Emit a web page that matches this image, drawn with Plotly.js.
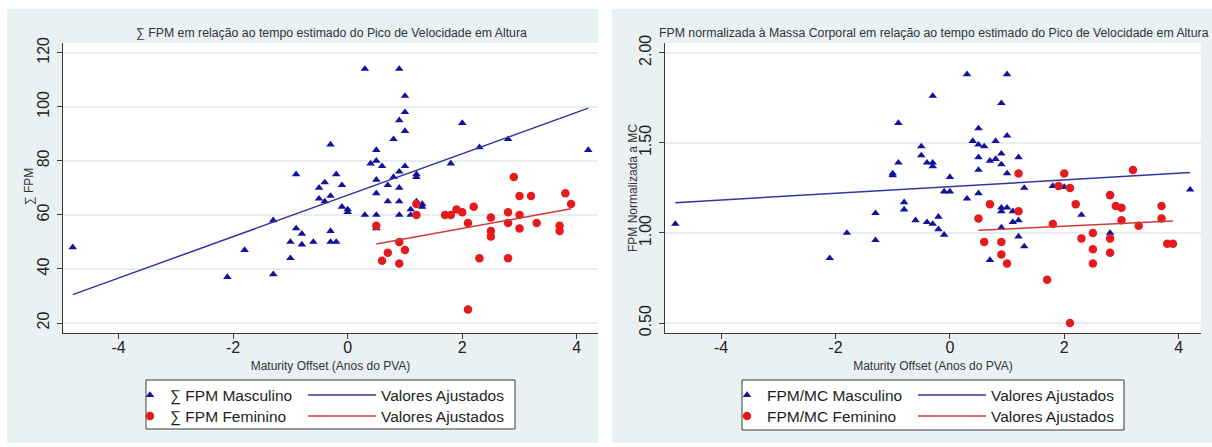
<!DOCTYPE html>
<html><head><meta charset="utf-8">
<script src="https://cdn.plot.ly/plotly-3.0.1.min.js"></script>
<style>html,body{margin:0;padding:0;background:#fff;}#chart{width:1212px;height:447px;}</style>
</head><body><div id="chart"></div>
<script>
// ---------- Left panel: ∑ FPM ----------
const mascX = [-4.8,-2.1,-1.8,-1.3,-1.3,-1.0,-1.0,-0.9,-0.9,-0.8,-0.8,-0.6,-0.5,-0.5,-0.4,-0.4,-0.3,-0.3,-0.3,-0.3,-0.2,-0.2,-0.1,-0.1,0,0,0.3,0.3,0.4,0.5,0.5,0.5,0.5,0.5,0.5,0.6,0.7,0.7,0.8,0.8,0.9,0.9,0.9,0.9,0.9,0.9,1.0,1.0,1.0,1.0,1.1,1.1,1.2,1.2,1.2,1.3,1.3,1.8,2.0,2.3,2.8,4.2];
const mascFPM = [48,37,47,58,38,50,44,75,55,53,49,50,70,66,72,65,86,67,54,50,75,50,71,63,62,61,114,60,79,84,80,73,68,60,55,78,71,65,88,74,114,95,76,70,65,60,104,98,91,78,62,60,75,74,65,64,63,79,94,85,88,84];
const femX = [0.5,0.6,0.7,0.9,0.9,1.0,1.2,1.2,1.7,1.8,1.9,2.0,2.1,2.1,2.2,2.3,2.5,2.5,2.5,2.8,2.8,2.8,2.9,3.0,3.0,3.0,3.2,3.3,3.7,3.7,3.8,3.9];
const femFPM = [56,43,46,50,42,47,64,60,60,60,62,61,57,25,63,44,59,54,52,61,57,44,74,67,60,55,67,57,56,54,68,64];
const fitMascX = [-4.8, 4.2];
const fitMascFPM = [30.5, 99.5];
const fitFemX = [0.5, 3.9];
const fitFemFPM = [49.2, 62.3];

// ---------- Right panel: FPM / MC ----------
const mascX2 = [-4.8,-2.1,-1.8,-1.3,-1.3,-1.0,-1.0,-0.9,-0.9,-0.8,-0.8,-0.6,-0.5,-0.5,-0.4,-0.4,-0.3,-0.3,-0.3,-0.3,-0.2,-0.2,-0.1,-0.1,0,0,0.3,0.3,0.4,0.5,0.5,0.5,0.5,0.5,0.6,0.7,0.7,0.8,0.8,0.9,0.9,0.9,0.9,0.9,0.9,1.0,1.0,1.0,1.0,1.1,1.1,1.2,1.2,1.2,1.3,1.3,1.8,2.0,2.3,2.8,4.2];
const mascMC = [1.05,0.86,1.00,1.11,0.96,1.33,1.32,1.61,1.39,1.17,1.13,1.07,1.48,1.43,1.39,1.06,1.76,1.39,1.37,1.05,1.09,1.02,1.23,0.99,1.31,1.23,1.88,1.19,1.51,1.58,1.49,1.42,1.35,1.22,1.48,1.40,0.85,1.51,1.41,1.72,1.44,1.38,1.14,1.12,1.03,1.88,1.54,1.33,1.14,1.12,1.06,1.42,1.07,0.98,1.25,0.925,1.26,1.255,1.10,1.00,1.24];
const femX2 = [0.5,0.6,0.7,0.9,0.9,1.0,1.2,1.2,1.7,1.8,1.9,2.0,2.1,2.1,2.2,2.3,2.5,2.5,2.5,2.8,2.8,2.8,2.9,3.0,3.0,3.2,3.3,3.7,3.7,3.8,3.9];
const femMC = [1.08,0.95,1.16,0.95,0.88,0.83,1.33,1.12,0.74,1.05,1.26,1.33,1.25,0.50,1.16,0.97,1.00,0.91,0.83,1.21,0.97,0.89,1.15,1.14,1.07,1.35,1.04,1.15,1.08,0.94,0.94];
const fitMascX2 = [-4.8, 4.2];
const fitMascMC = [1.168, 1.335];
const fitFemX2 = [0.5, 3.9];
const fitFemMC = [1.015, 1.066];

// ---------- Ticks ----------
const xTicks = [-4, -2, 0, 2, 4];
const xTickText = ['-4', '-2', '0', '2', '4'];
const yTicksFPM = [20, 40, 60, 80, 100, 120];
const yTicksMC = [0.5, 1.0, 1.5, 2.0];
const yTickTextMC = ['0.50', '1.00', '1.50', '2.00'];

// ---------- Style ----------
const W = 1212, H = 447;
const fx = v => v / W, fy = v => 1 - v / H;
const FONT = 'Liberation Sans, Arial, sans-serif';
const BLUE = '#12129c', RED = '#e41a1c';
const BLUE_LINE = '#35359c', RED_LINE = '#d23a3a';
const PANEL = '#e9f1f3', GRID = '#e6eef2', AX = '#3a3a3a';

const traces = [
  {x: mascX, y: mascFPM, type: 'scatter', mode: 'markers', name: '∑ FPM Masculino',
   marker: {symbol: 'triangle-up', size: 7.5, color: BLUE}, xaxis: 'x', yaxis: 'y', legend: 'legend'},
  {x: fitMascX, y: fitMascFPM, type: 'scatter', mode: 'lines', name: 'Valores Ajustados',
   line: {color: BLUE_LINE, width: 1.5}, xaxis: 'x', yaxis: 'y', legend: 'legend2'},
  {x: femX, y: femFPM, type: 'scatter', mode: 'markers', name: '∑ FPM Feminino',
   marker: {symbol: 'circle', size: 8.5, color: RED}, xaxis: 'x', yaxis: 'y', legend: 'legend3'},
  {x: fitFemX, y: fitFemFPM, type: 'scatter', mode: 'lines', name: 'Valores Ajustados',
   line: {color: RED_LINE, width: 1.5}, xaxis: 'x', yaxis: 'y', legend: 'legend4'},

  {x: mascX2, y: mascMC, type: 'scatter', mode: 'markers', name: 'FPM/MC Masculino',
   marker: {symbol: 'triangle-up', size: 7.5, color: BLUE}, xaxis: 'x2', yaxis: 'y2', legend: 'legend5'},
  {x: fitMascX2, y: fitMascMC, type: 'scatter', mode: 'lines', name: 'Valores Ajustados',
   line: {color: BLUE_LINE, width: 1.5}, xaxis: 'x2', yaxis: 'y2', legend: 'legend6'},
  {x: femX2, y: femMC, type: 'scatter', mode: 'markers', name: 'FPM/MC Feminino',
   marker: {symbol: 'circle', size: 8.5, color: RED}, xaxis: 'x2', yaxis: 'y2', legend: 'legend7'},
  {x: fitFemX2, y: fitFemMC, type: 'scatter', mode: 'lines', name: 'Valores Ajustados',
   line: {color: RED_LINE, width: 1.5}, xaxis: 'x2', yaxis: 'y2', legend: 'legend8'}
];

const xCommon = {
  tickvals: xTicks, ticktext: xTickText, ticks: 'outside', ticklen: 5, tickcolor: AX, tickwidth: 1,
  showline: true, linecolor: AX, linewidth: 1, showgrid: false, zeroline: false, ticklabelstandoff: -5,
  tickfont: {size: 16, color: '#222', family: FONT}, fixedrange: true
};
const yCommon = {
  ticks: 'outside', ticklen: 5, tickcolor: AX, tickwidth: 1, tickangle: -90, ticklabelstandoff: 2,
  showline: true, linecolor: AX, linewidth: 1, showgrid: true, gridcolor: GRID, gridwidth: 2,
  zeroline: false, tickfont: {size: 16, color: '#222', family: FONT}, fixedrange: true
};
const legCommon = {orientation: 'v', bgcolor: 'rgba(0,0,0,0)', borderwidth: 0,
  font: {size: 15.5, color: '#1e1e1e', family: FONT}, xanchor: 'left', yanchor: 'top'};
const XT = {size: 12, color: '#333', family: FONT};
const ROW1 = 378.5, ROW2 = 399.5;

const layout = {
  width: W, height: H, margin: {l: 0, r: 0, t: 0, b: 0},
  paper_bgcolor: '#ffffff', plot_bgcolor: 'rgba(0,0,0,0)',
  font: {family: FONT, color: '#222'},
  showlegend: true,
  xaxis: Object.assign({}, xCommon, {domain: [fx(63), fx(598)], range: [-4.97, 4.37], anchor: 'y',
    title: {text: 'Maturity Offset (Anos do PVA)', font: XT, standoff: 6}}),
  yaxis: Object.assign({}, yCommon, {domain: [fy(333), fy(43)], range: [16.3, 123.6], anchor: 'x',
    tickvals: yTicksFPM}),
  xaxis2: Object.assign({}, xCommon, {domain: [fx(665), fx(1201)], range: [-4.98, 4.39], anchor: 'y2',
    title: {text: 'Maturity Offset (Anos do PVA)', font: XT, standoff: 6}}),
  yaxis2: Object.assign({}, yCommon, {domain: [fy(333), fy(43)], range: [0.445, 2.054], anchor: 'x2',
    tickvals: yTicksMC, ticktext: yTickTextMC}),
  legend:  Object.assign({}, legCommon, {x: fx(130), y: fy(ROW1), itemwidth: 30}),
  legend2: Object.assign({}, legCommon, {x: fx(303), y: fy(ROW1), itemwidth: 68}),
  legend3: Object.assign({}, legCommon, {x: fx(130), y: fy(ROW2), itemwidth: 30}),
  legend4: Object.assign({}, legCommon, {x: fx(303), y: fy(ROW2), itemwidth: 68}),
  legend5: Object.assign({}, legCommon, {x: fx(727), y: fy(ROW1), itemwidth: 30}),
  legend6: Object.assign({}, legCommon, {x: fx(913), y: fy(ROW1), itemwidth: 68}),
  legend7: Object.assign({}, legCommon, {x: fx(727), y: fy(ROW2), itemwidth: 30}),
  legend8: Object.assign({}, legCommon, {x: fx(913), y: fy(ROW2), itemwidth: 68}),
  annotations: [
    {text: '∑ FPM em relação ao tempo estimado do Pico de Velocidade em Altura', xref: 'paper', yref: 'paper',
     x: fx(331), y: fy(33), xanchor: 'center', yanchor: 'middle', showarrow: false,
     font: {size: 12.3, color: '#333', family: FONT}},
    {text: 'FPM normalizada à Massa Corporal em relação ao tempo estimado do Pico de Velocidade em Altura', xref: 'paper', yref: 'paper',
     x: fx(934), y: fy(33), xanchor: 'center', yanchor: 'middle', showarrow: false,
     font: {size: 12.3, color: '#333', family: FONT}},
    {text: '∑ FPM', xref: 'paper', yref: 'paper', x: fx(29), y: fy(187), textangle: -90,
     xanchor: 'center', yanchor: 'middle', showarrow: false, font: XT},
    {text: 'FPM Normalizada a MC', xref: 'paper', yref: 'paper', x: fx(633), y: fy(188), textangle: -90,
     xanchor: 'center', yanchor: 'middle', showarrow: false, font: XT}
  ],
  shapes: [
    {type: 'rect', xref: 'paper', yref: 'paper', x0: fx(7), x1: fx(598), y0: fy(443), y1: fy(9),
     fillcolor: PANEL, line: {width: 0}, layer: 'below'},
    {type: 'rect', xref: 'paper', yref: 'paper', x0: fx(612), x1: 1, y0: fy(443), y1: fy(9),
     fillcolor: PANEL, line: {width: 0}, layer: 'below'},
    {type: 'rect', xref: 'paper', yref: 'paper', x0: fx(63), x1: fx(598), y0: fy(333), y1: fy(43),
     fillcolor: '#ffffff', line: {width: 0}, layer: 'below'},
    {type: 'rect', xref: 'paper', yref: 'paper', x0: fx(665), x1: fx(1201), y0: fy(333), y1: fy(43),
     fillcolor: '#ffffff', line: {width: 0}, layer: 'below'},
    {type: 'rect', xref: 'paper', yref: 'paper', x0: fx(146), x1: fx(515), y0: fy(429), y1: fy(380),
     fillcolor: '#ffffff', line: {width: 1, color: AX}, layer: 'below'},
    {type: 'rect', xref: 'paper', yref: 'paper', x0: fx(742), x1: fx(1124), y0: fy(430), y1: fy(380),
     fillcolor: '#ffffff', line: {width: 1, color: AX}, layer: 'below'}
  ]
};

Plotly.newPlot('chart', traces, layout, {displayModeBar: false, staticPlot: true});
</script>
</body></html>
